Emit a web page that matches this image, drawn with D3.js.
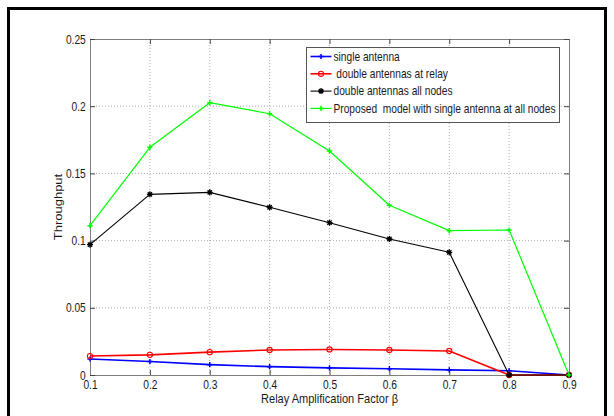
<!DOCTYPE html>
<html>
<head>
<meta charset="utf-8">
<script src="https://cdn.jsdelivr.net/npm/d3@7"></script>
<style>
html, body { margin: 0; padding: 0; background: #fff; }
svg { display: block; font-family: "Liberation Sans", Arial, Helvetica, sans-serif; }
</style>
</head>
<body>
<div id="chart"></div>
<script>
// DATA ---------------------------------------------------------------------
const betaValues = [0.1, 0.2, 0.3, 0.4, 0.5, 0.6, 0.7, 0.8, 0.9];
const singleAntenna = [0.0119, 0.0100, 0.0077, 0.0062, 0.0053, 0.0047, 0.0038, 0.0032, 0];
const doubleRelay = [0.0141, 0.0150, 0.0170, 0.0186, 0.0190, 0.0186, 0.0179, 0, 0];
const doubleAllNodes = [0.097, 0.1344, 0.1359, 0.1248, 0.1133, 0.1012, 0.0913, 0, 0];
const proposedModel = [0.1111, 0.1694, 0.2026, 0.1944, 0.1667, 0.1263, 0.1074, 0.1079, 0];
const xTicks = [0.1, 0.2, 0.3, 0.4, 0.5, 0.6, 0.7, 0.8, 0.9];
const yTicks = [0, 0.05, 0.1, 0.15, 0.2, 0.25];
const seriesNames = [
    "single antenna",
    " double antennas at relay",
    "double antennas all nodes",
    "Proposed  model with single antenna at all nodes"
];

// SETTINGS -----------------------------------------------------------------
const width = 614, height = 416;
const margins = {top: 39, right: 45, bottom: 41, left: 90};
const innerWidth = width - margins.left - margins.right;
const innerHeight = height - margins.top - margins.bottom;
const squeeze = 0.85;   // the picture is a bit narrow, text too
const axisColor = "#7f7f7f";

const series = [
    {name: seriesNames[0], values: singleAntenna, color: "#0000ff", width: 1.6, marker: "plus"},
    {name: seriesNames[1], values: doubleRelay, color: "#ff0000", width: 1.6, marker: "circle"},
    {name: seriesNames[2], values: doubleAllNodes, color: "#000000", width: 1.1, marker: "star"},
    {name: seriesNames[3], values: proposedModel, color: "#00ff00", width: 1.2, marker: "plus"}
];

// SVG ----------------------------------------------------------------------
const svg = d3.select("#chart")
    .append("svg")
    .attr("width", width)
    .attr("height", height);

svg.append("rect")
    .attr("width", width).attr("height", height)
    .attr("fill", "#fff");

// figure frame (bottom edge runs off the picture)
svg.append("rect")
    .attr("x", 8.5).attr("y", 8.5)
    .attr("width", 597).attr("height", 420)
    .attr("fill", "none")
    .attr("stroke", "#000")
    .attr("stroke-width", 3);

const g = svg.append("g")
    .attr("transform", `translate(${margins.left}, ${margins.top})`);

// SCALES -------------------------------------------------------------------
const x = d3.scaleLinear().domain([0.1, 0.9]).range([0, innerWidth]);
const y = d3.scaleLinear().domain([0, 0.25]).range([innerHeight, 0]);

// GRID ---------------------------------------------------------------------
g.append("g").selectAll("line")
    .data(xTicks.slice(1, -1))
    .enter().append("line")
    .attr("x1", d => x(d)).attr("x2", d => x(d))
    .attr("y1", 0).attr("y2", innerHeight)
    .attr("stroke", "#b0b0b0")
    .attr("stroke-dasharray", "1,2");

g.append("g").selectAll("line")
    .data(yTicks.slice(1, -1))
    .enter().append("line")
    .attr("x1", 0).attr("x2", innerWidth)
    .attr("y1", d => y(d)).attr("y2", d => y(d))
    .attr("stroke", "#b0b0b0")
    .attr("stroke-dasharray", "1,2");

// AXES ---------------------------------------------------------------------
const fmt = d => d === 0 ? "0" : String(d);

const xAxis = g.append("g")
    .attr("transform", `translate(0, ${innerHeight})`)
    .call(d3.axisBottom(x).tickValues(xTicks).tickFormat(fmt).tickSizeInner(-5).tickSizeOuter(0).tickPadding(14));
const xAxisTop = g.append("g")
    .call(d3.axisTop(x).tickValues(xTicks).tickFormat("").tickSizeInner(-5).tickSizeOuter(0));
const yAxis = g.append("g")
    .call(d3.axisLeft(y).tickValues(yTicks).tickFormat(fmt).tickSizeInner(-5).tickSizeOuter(0).tickPadding(5));
const yAxisRight = g.append("g")
    .attr("transform", `translate(${innerWidth}, 0)`)
    .call(d3.axisRight(y).tickValues(yTicks).tickFormat("").tickSizeInner(-5).tickSizeOuter(0));

[xAxis, xAxisTop, yAxis, yAxisRight].forEach(a => {
    a.select(".domain").attr("stroke", axisColor);
    a.selectAll(".tick line").attr("stroke", "#444");
    a.selectAll("text")
        .attr("fill", "#1a1a1a")
        .style("font-size", "12px")
        .style("font-family", "\"Liberation Sans\", Arial, sans-serif");
});
xAxis.selectAll("text").attr("dy", "0").attr("transform", `scale(${squeeze},1)`);
yAxis.selectAll("text").attr("dy", "0.34em").attr("transform", `scale(${squeeze},1)`);

// axis labels
svg.append("text")
    .attr("transform", `translate(${margins.left + innerWidth / 2}, 403) scale(${squeeze},1)`)
    .attr("text-anchor", "middle")
    .style("font-size", "13px")
    .attr("fill", "#1a1a1a")
    .text("Relay Amplification Factor \u03B2");

svg.append("text")
    .attr("transform", `translate(62, ${margins.top + innerHeight / 2}) scale(${squeeze},1) rotate(-90)`)
    .attr("text-anchor", "middle")
    .style("font-size", "13px")
    .attr("fill", "#1a1a1a")
    .text("Throughput");

// MARKERS ------------------------------------------------------------------
function markerPath(type, r){
    if(type === "plus") return `M${-r},0H${r}M0,${-r}V${r}`;
    if(type === "star"){
        const k = r * 0.72;
        return `M${-r},0H${r}M0,${-r}V${r}M${-k},${-k}L${k},${k}M${-k},${k}L${k},${-k}`;
    }
    return d3.arc()({innerRadius: 0, outerRadius: r, startAngle: 0, endAngle: 2 * Math.PI});
}

function drawMarker(sel, s){
    if(s.marker === "circle"){
        sel.append("circle")
            .attr("r", 2.6)
            .attr("fill", "none")
            .attr("stroke", s.color)
            .attr("stroke-width", 1.1);
    } else {
        sel.append("path")
            .attr("d", markerPath(s.marker, s.marker === "star" ? 3 : 2.6))
            .attr("fill", "none")
            .attr("stroke", s.color)
            .attr("stroke-width", s.marker === "star" ? 1.3 : 1.5);
    }
}

// LINES --------------------------------------------------------------------
const line = d3.line()
    .x((d, i) => x(betaValues[i]))
    .y(d => y(d));

series.forEach(s => {
    const sg = g.append("g");
    sg.append("path")
        .datum(s.values)
        .attr("d", line)
        .attr("fill", "none")
        .attr("stroke", s.color)
        .attr("stroke-width", s.width)
        .attr("stroke-linejoin", "round");

    sg.selectAll(".mk")
        .data(s.values)
        .enter().append("g")
        .attr("class", "mk")
        .attr("transform", (d, i) => `translate(${x(betaValues[i])}, ${y(d)})`)
        .each(function(){ drawMarker(d3.select(this), s); });
});

// LEGEND -------------------------------------------------------------------
const legend = svg.append("g").attr("transform", "translate(306.5, 47.5)");
legend.append("rect")
    .attr("width", 253).attr("height", 75)
    .attr("fill", "#fff")
    .attr("stroke", "#555");

series.forEach((s, i) => {
    const ly = 9 + i * 17.3;
    const row = legend.append("g").attr("transform", `translate(0, ${ly})`);
    row.append("line")
        .attr("x1", 4).attr("x2", 25)
        .attr("stroke", s.color)
        .attr("stroke-width", s.width);
    drawMarker(row.append("g").attr("transform", "translate(14.5, 0)"), s);
    row.append("text")
        .attr("transform", `translate(27, 4.3) scale(${squeeze},1)`)
        .style("font-size", "12px")
        .attr("fill", "#1a1a1a")
        .attr("xml:space", "preserve")
        .style("white-space", "pre")
        .text(s.name);
});
</script>
</body>
</html>
